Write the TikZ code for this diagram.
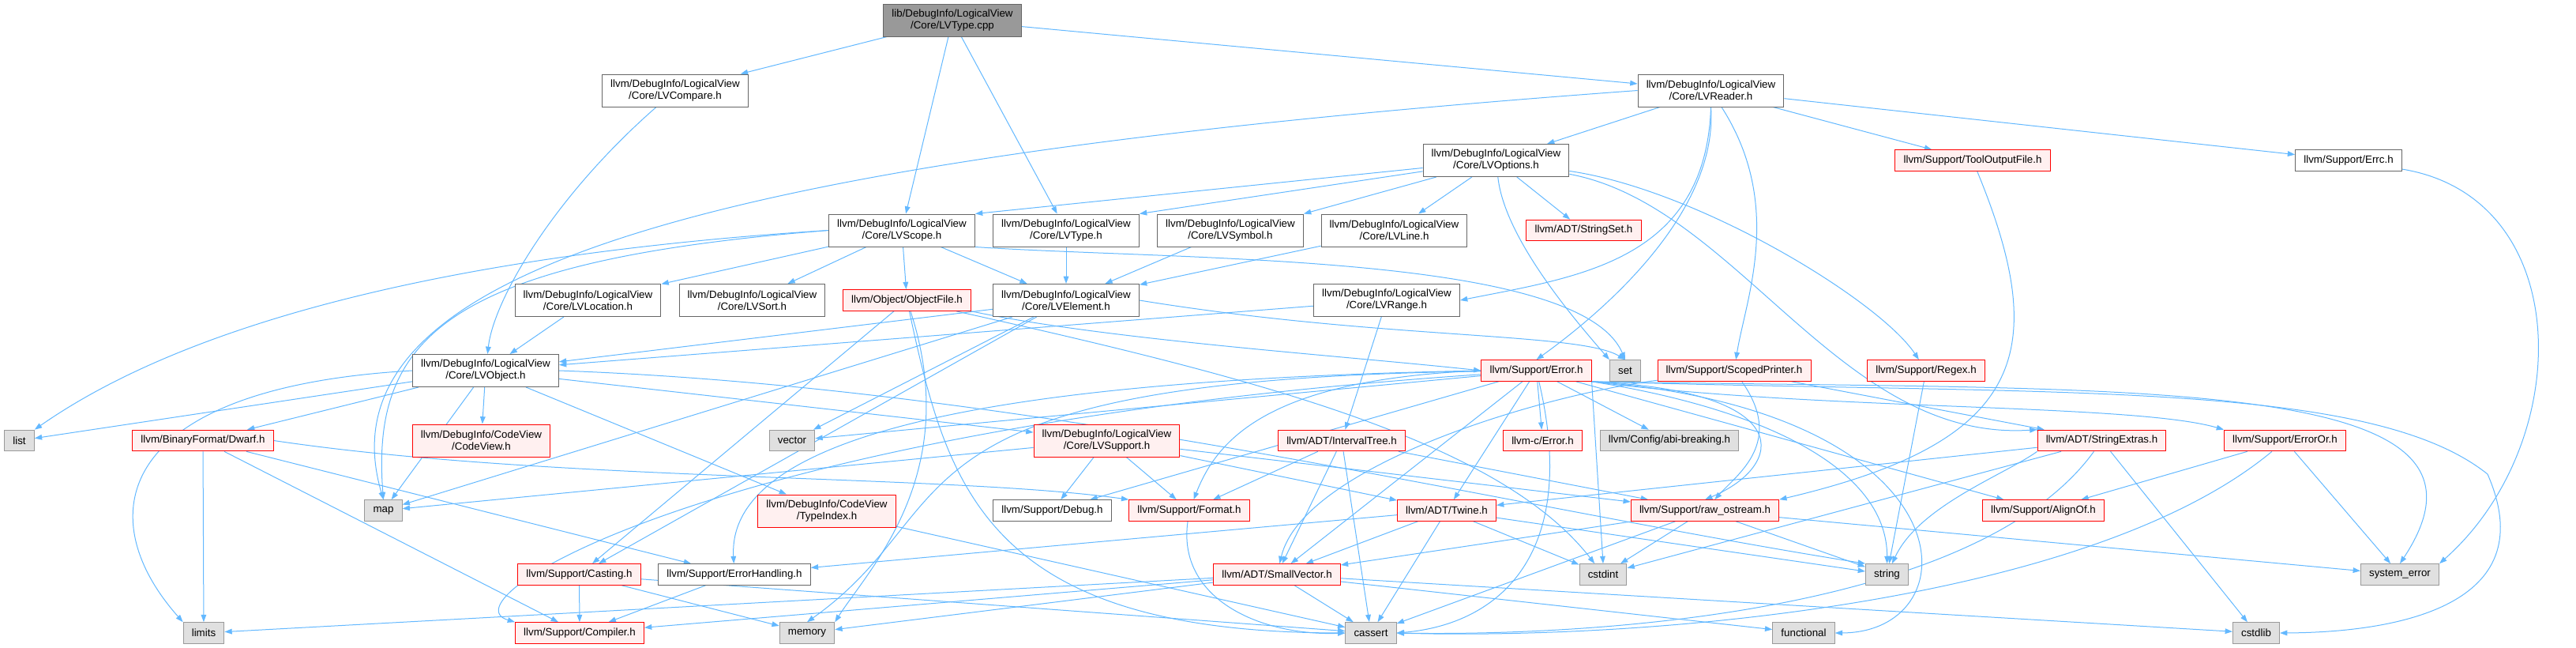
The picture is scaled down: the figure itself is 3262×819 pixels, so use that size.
\documentclass[tikz,border=0pt]{standalone}
\usepackage{fontspec}
\setmainfont{Liberation Sans}
\usetikzlibrary{arrows.meta,backgrounds}
\definecolor{doxEdge}{HTML}{63B8FF}
\definecolor{doxInk}{HTML}{666666}
\definecolor{doxSysLine}{HTML}{999999}
\definecolor{doxSysFill}{HTML}{E0E0E0}
\definecolor{doxRedLine}{HTML}{FF0000}
\definecolor{doxRedFill}{HTML}{FFF0F0}
\definecolor{doxRootFill}{HTML}{999999}
\tikzset{
  dox/base/.style={draw=doxInk, line width=0.75pt, fill=white, align=center,
    font=\fontsize{10pt}{11.25pt}\selectfont, inner xsep=8pt, inner ysep=5pt,
    minimum height=20pt},
  dox/file/.style={dox/base},
  dox/root/.style={dox/base, fill=doxRootFill},
  dox/red/.style={dox/base, draw=doxRedLine, fill=doxRedFill},
  dox/sys/.style={dox/base, draw=doxSysLine, fill=doxSysFill},
  dox/dep/.style={-{Triangle[length=7pt,width=5pt]}, draw=doxEdge,
    line width=0.75pt},
}

\begin{document}
\begin{tikzpicture}[
    x=0.75pt, y=-0.75pt,
    two/.style={minimum height=30.75pt},
    dep/.style={dox/dep},
]
\useasboundingbox (0,0) rectangle (3262,819);

% rows of the include graph, top to bottom
\node[dox/root, two] (root) at (1206,25.5) {lib/DebugInfo/LogicalView\\/Core/LVType.cpp};

\node[dox/file, two] (cmp) at (855,114.5) {llvm/DebugInfo/LogicalView\\/Core/LVCompare.h};
\node[dox/file, two] (reader) at (2166.5,114.5) {llvm/DebugInfo/LogicalView\\/Core/LVReader.h};

\node[dox/file, two] (opts) at (1894.5,203) {llvm/DebugInfo/LogicalView\\/Core/LVOptions.h};
\node[dox/red] (tof) at (2498,203) {llvm/Support/ToolOutputFile.h};
\node[dox/file] (errc) at (2974,203) {llvm/Support/Errc.h};

\node[dox/file, two] (scope) at (1142,291.5) {llvm/DebugInfo/LogicalView\\/Core/LVScope.h};
\node[dox/file, two] (typeh) at (1350,291.5) {llvm/DebugInfo/LogicalView\\/Core/LVType.h};
\node[dox/file, two] (symbol) at (1558,291.5) {llvm/DebugInfo/LogicalView\\/Core/LVSymbol.h};
\node[dox/file, two] (lvline) at (1765.5,291.5) {llvm/DebugInfo/LogicalView\\/Core/LVLine.h};
\node[dox/red] (sset) at (2005.5,291.5) {llvm/ADT/StringSet.h};

\node[dox/file, two] (location) at (744.5,380) {llvm/DebugInfo/LogicalView\\/Core/LVLocation.h};
\node[dox/file, two] (sort) at (952.5,380) {llvm/DebugInfo/LogicalView\\/Core/LVSort.h};
\node[dox/red] (objfile) at (1148.5,380) {llvm/Object/ObjectFile.h};
\node[dox/file, two] (element) at (1350,380) {llvm/DebugInfo/LogicalView\\/Core/LVElement.h};
\node[dox/file, two] (range) at (1756,380) {llvm/DebugInfo/LogicalView\\/Core/LVRange.h};

\node[dox/file, two] (object) at (615,469) {llvm/DebugInfo/LogicalView\\/Core/LVObject.h};
\node[dox/red] (error) at (1945.5,469) {llvm/Support/Error.h};
\node[dox/sys] (stdset) at (2058,469) {set};
\node[dox/red] (printer) at (2196,469) {llvm/Support/ScopedPrinter.h};
\node[dox/red] (regex) at (2439,469) {llvm/Support/Regex.h};

\node[dox/sys] (stdlist) at (24.5,557.5) {list};
\node[dox/red] (dwarf) at (257,557.5) {llvm/BinaryFormat/Dwarf.h};
\node[dox/red, two] (codeview) at (609.5,557.5) {llvm/DebugInfo/CodeView\\/CodeView.h};
\node[dox/sys] (vector) at (1003,557.5) {vector};
\node[dox/red, two] (lvsupport) at (1401.5,557.5) {llvm/DebugInfo/LogicalView\\/Core/LVSupport.h};
\node[dox/red] (itree) at (1699,557.5) {llvm/ADT/IntervalTree.h};
\node[dox/red] (cerror) at (1953.5,557.5) {llvm-c/Error.h};
\node[dox/sys] (abi) at (2114,557.5) {llvm/Config/abi-breaking.h};
\node[dox/red] (strext) at (2661.5,557.5) {llvm/ADT/StringExtras.h};
\node[dox/red] (erroror) at (2893.5,557.5) {llvm/Support/ErrorOr.h};

\node[dox/sys] (map) at (485.5,646) {map};
\node[dox/red, two] (typeindex) at (1047,646.5) {llvm/DebugInfo/CodeView\\/TypeIndex.h};
\node[dox/file] (debug) at (1332.5,646) {llvm/Support/Debug.h};
\node[dox/red] (format) at (1506,646) {llvm/Support/Format.h};
\node[dox/red] (twine) at (1832,646) {llvm/ADT/Twine.h};
\node[dox/red] (rawos) at (2159,646) {llvm/Support/raw\_ostream.h};
\node[dox/red] (alignof) at (2587.5,646) {llvm/Support/AlignOf.h};

\node[dox/red] (casting) at (733.5,727) {llvm/Support/Casting.h};
\node[dox/file] (errhandling) at (930,727) {llvm/Support/ErrorHandling.h};
\node[dox/red] (smallvec) at (1617,727) {llvm/ADT/SmallVector.h};
\node[dox/sys] (cstdint) at (2030,727) {cstdint};
\node[dox/sys] (stdstring) at (2389.5,727) {string};
\node[dox/sys] (syserr) at (3039,727) {system\_error};

\node[dox/sys] (limits) at (258,801) {limits};
\node[dox/red] (compiler) at (734,801) {llvm/Support/Compiler.h};
\node[dox/sys] (memory) at (1022,801) {memory};
\node[dox/sys] (cassert) at (1736,801) {cassert};
\node[dox/sys] (functional) at (2284,801) {functional};
\node[dox/sys] (cstdlib) at (2857,801) {cstdlib};

\begin{scope}[on background layer]
% LVType.cpp
\draw[dep] (root) -- (cmp);
\draw[dep] (root) -- (scope);
\draw[dep] (root) -- (typeh);
\draw[dep] (root) -- (reader);
% LVCompare.h and LVReader.h
\draw[dep] (cmp) .. controls (700,250) and (625,380) .. (object);
\draw[dep] (reader) -- (opts);
\draw[dep] (reader) -- (tof);
\draw[dep] (reader) -- (errc);
\draw[dep] (reader.south) .. controls (2160,330) and (2000,350) .. (range.east);
\draw[dep] (reader.south) .. controls (2175,260) and (2050,380) .. (error.north);
\draw[dep] (reader) .. controls (2260,260) and (2210,380) .. (printer);
\draw[dep] (reader.west) .. controls (900,200) and (400,340) .. (map.north);
% LVOptions.h
\draw[dep] (opts) -- (scope.north east);
\draw[dep] (opts) -- (typeh.north east);
\draw[dep] (opts) -- (symbol.north east);
\draw[dep] (opts) -- (lvline);
\draw[dep] (opts) -- (sset);
\draw[dep] (opts) .. controls (1905,300) and (1990,400) .. (stdset.north west);
\draw[dep] (opts) .. controls (2150,240) and (2380,380) .. (regex);
\draw[dep] (opts) .. controls (2200,260) and (2330,560) .. (strext.north west);
\draw[dep] (tof) .. controls (2600,450) and (2560,560) .. (rawos.north east);
\draw[dep] (errc) .. controls (3262,250) and (3262,560) .. (syserr.north east);
% LVScope.h
\draw[dep] (scope) -- (element);
\draw[dep] (scope) -- (location);
\draw[dep] (scope) -- (sort);
\draw[dep] (scope) -- (objfile);
\draw[dep] (scope.west) .. controls (600,320) and (250,400) .. (stdlist.north east);
\draw[dep] (scope.west) .. controls (560,330) and (470,430) .. (map.north);
\draw[dep] (scope.south east) .. controls (1500,330) and (2000,320) .. (stdset.north);
\draw[dep] (typeh) -- (element);
\draw[dep] (symbol) -- (element);
\draw[dep] (lvline) -- (element);
% fourth row
\draw[dep] (location) -- (object);
\draw[dep] (element) -- (object);
\draw[dep] (element) -- (vector);
\draw[dep] (element) -- (map);
\draw[dep] (element) -- (casting);
\draw[dep] (element.east) .. controls (1750,430) and (2000,420) .. (stdset.north);
\draw[dep] (range) -- (object);
\draw[dep] (range) -- (itree);
\draw[dep] (objfile) -- (casting);
\draw[dep] (objfile) .. controls (1220,600) and (1100,720) .. (memory.north east);
\draw[dep] (objfile) .. controls (1200,620) and (1250,800) .. (cassert.west);
\draw[dep] (objfile) .. controls (1600,480) and (1900,560) .. (cstdint);
\draw[dep] (objfile.south east) .. controls (1400,430) and (1700,450) .. (error.west);
% LVObject.h
\draw[dep] (object) -- (stdlist);
\draw[dep] (object) -- (dwarf);
\draw[dep] (object) -- (codeview);
\draw[dep] (object) -- (map);
\draw[dep] (object) -- (typeindex);
\draw[dep] (object) -- (lvsupport);
\draw[dep] (object.west) .. controls (150,490) and (110,650) .. (limits.north west);
\draw[dep] (object.east) .. controls (1300,490) and (1900,640) .. (stdstring.north west);
% Error.h
\draw[dep] (error) -- (cerror);
\draw[dep] (error) -- (abi);
\draw[dep] (error) -- (twine);
\draw[dep] (error) -- (alignof);
\draw[dep] (error) -- (debug);
\draw[dep] (error) -- (vector);
\draw[dep] (error) -- (smallvec);
\draw[dep] (error.south east) -- (cstdint.north);
\draw[dep] (error) .. controls (900,540) and (560,760) .. (compiler.north west);
\draw[dep] (error.west) .. controls (1300,480) and (920,540) .. (errhandling);
\draw[dep] (error) .. controls (1100,480) and (1230,640) .. (memory.north);
\draw[dep] (error.west) .. controls (1600,480) and (1540,560) .. (format);
\draw[dep] (error.south east) .. controls (2280,495) and (2260,590) .. (rawos.north);
\draw[dep] (error) .. controls (2000,700) and (1900,790) .. (cassert.east);
\draw[dep] (error.south east) .. controls (2300,520) and (2700,510) .. (erroror.north west);
\draw[dep] (error.south east) .. controls (2500,520) and (2500,800) .. (functional.east);
\draw[dep] (error.south east) .. controls (2250,520) and (2390,600) .. (stdstring);
\draw[dep] (error.south east) .. controls (2700,495) and (3200,470) .. (syserr.north);
\draw[dep] (error.south east) .. controls (2600,500) and (3000,480) .. (3150,600)
  .. controls (3220,760) and (3050,800) .. (cstdlib.east);
% ScopedPrinter.h, Regex.h
\draw[dep] (printer) -- (strext);
\draw[dep] (printer) .. controls (2260,560) and (2200,600) .. (rawos);
\draw[dep] (printer) .. controls (1950,500) and (1650,590) .. (smallvec);
\draw[dep] (regex) -- (stdstring);
% fifth row
\draw[dep] (dwarf) -- (limits);
\draw[dep] (dwarf) -- (compiler);
\draw[dep] (dwarf) -- (errhandling);
\draw[dep] (dwarf.east) .. controls (700,610) and (1200,600) .. (format.north west);
\draw[dep] (lvsupport) -- (map);
\draw[dep] (lvsupport) -- (debug);
\draw[dep] (lvsupport) -- (format);
\draw[dep] (lvsupport) -- (twine);
\draw[dep] (lvsupport) -- (rawos);
\draw[dep] (itree) -- (smallvec);
\draw[dep] (itree) -- (format);
\draw[dep] (itree) -- (cassert);
\draw[dep] (itree) -- (rawos);
\draw[dep] (strext) -- (twine);
\draw[dep] (strext) -- (cstdint);
\draw[dep] (strext) -- (cstdlib);
\draw[dep] (strext) .. controls (2500,780) and (2000,805) .. (cassert.east);
\draw[dep] (strext.south west) .. controls (2540,600) and (2430,640) .. (stdstring);
\draw[dep] (erroror) -- (alignof);
\draw[dep] (erroror) -- (syserr);
\draw[dep] (erroror) .. controls (2650,760) and (2100,810) .. (cassert.east);
% sixth row
\draw[dep] (typeindex) -- (cassert);
\draw[dep] (format) .. controls (1490,760) and (1600,805) .. (cassert.west);
\draw[dep] (twine) -- (smallvec);
\draw[dep] (twine) -- (errhandling);
\draw[dep] (twine) -- (cassert);
\draw[dep] (twine) -- (cstdint);
\draw[dep] (twine) -- (stdstring);
\draw[dep] (rawos) -- (smallvec);
\draw[dep] (rawos) -- (cassert);
\draw[dep] (rawos) -- (cstdint);
\draw[dep] (rawos) -- (stdstring);
\draw[dep] (rawos) -- (syserr);
% seventh row
\draw[dep] (casting) -- (compiler);
\draw[dep] (casting) -- (memory);
\draw[dep] (casting) -- (cassert);
\draw[dep] (errhandling) -- (compiler);
\draw[dep] (smallvec) -- (compiler);
\draw[dep] (smallvec) -- (memory);
\draw[dep] (smallvec) -- (cassert);
\draw[dep] (smallvec) -- (functional);
\draw[dep] (smallvec) -- (cstdlib);
\draw[dep] (smallvec) -- (limits);
\end{scope}
\end{tikzpicture}
\end{document}
